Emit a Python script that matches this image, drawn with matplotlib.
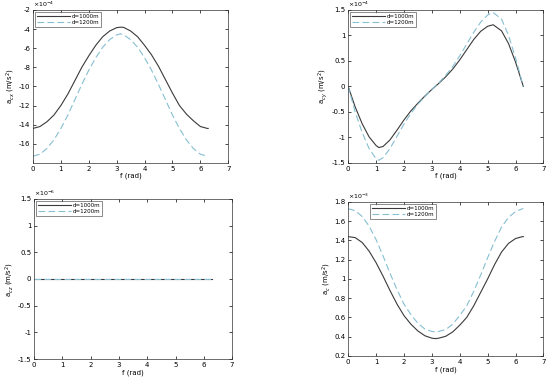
import matplotlib
matplotlib.use("Agg")
import matplotlib.pyplot as plt

# angle samples (rad)
f_vals = [0.0, 0.25, 0.5, 0.75, 1.0, 1.25, 1.5, 1.75, 2.0, 2.25, 2.5, 2.75, 3.0, 3.14,
          3.25, 3.5, 3.75, 4.0, 4.25, 4.5, 4.75, 5.0, 5.25, 5.5, 5.75, 6.0, 6.25, 6.28]

# a_cx, units of 1e-4 m/s^2
acx_1000 = [-14.4, -14.2, -13.7, -13.0, -12.0, -10.8, -9.4, -8.0, -6.8, -5.7, -4.8, -4.2, -3.85, -3.8,
            -3.82, -4.2, -4.8, -5.7, -6.7, -7.9, -9.3, -10.7, -12.0, -12.9, -13.6, -14.2, -14.4, -14.4]
acx_1200 = [-17.3, -17.1, -16.5, -15.6, -14.4, -13.0, -11.4, -9.8, -8.3, -7.0, -5.9, -5.1, -4.6, -4.5,
            -4.6, -5.1, -5.9, -7.0, -8.3, -9.8, -11.4, -13.0, -14.4, -15.6, -16.5, -17.1, -17.3, -17.3]

# a_cy, units of 1e-4 m/s^2
f_cy = [0.0, 0.25, 0.5, 0.75, 1.0, 1.1, 1.25, 1.5, 1.75, 2.0, 2.25, 2.5, 2.75, 3.0,
        3.25, 3.5, 3.75, 4.0, 4.25, 4.5, 4.75, 5.0, 5.2, 5.5, 5.75, 6.0, 6.28]
acy_1000 = [0.0, -0.40, -0.73, -0.99, -1.16, -1.20, -1.18, -1.05, -0.86, -0.66, -0.48, -0.33, -0.19, -0.06,
            0.06, 0.19, 0.34, 0.52, 0.72, 0.92, 1.08, 1.18, 1.21, 1.09, 0.84, 0.48, 0.0]
acy_1200 = [0.0, -0.50, -0.90, -1.22, -1.42, -1.45, -1.40, -1.22, -0.98, -0.74, -0.53, -0.35, -0.20, -0.06,
            0.07, 0.22, 0.39, 0.60, 0.83, 1.06, 1.26, 1.40, 1.45, 1.32, 1.00, 0.56, 0.0]

# a_cz, units of 1e-6 m/s^2
acz_1000 = [0.0] * len(f_vals)
acz_1200 = [0.0] * len(f_vals)

# a_c, units of 1e-3 m/s^2
ac_1000 = [1.44, 1.43, 1.38, 1.29, 1.17, 1.03, 0.88, 0.74, 0.62, 0.53, 0.46, 0.41, 0.385, 0.38,
           0.385, 0.405, 0.45, 0.52, 0.60, 0.72, 0.86, 1.00, 1.15, 1.28, 1.37, 1.42, 1.44, 1.44]
ac_1200 = [1.73, 1.71, 1.65, 1.55, 1.41, 1.24, 1.06, 0.89, 0.74, 0.63, 0.54, 0.48, 0.455, 0.45,
           0.455, 0.475, 0.53, 0.62, 0.72, 0.87, 1.04, 1.22, 1.39, 1.54, 1.64, 1.70, 1.73, 1.73]

labels = ["d=1000m", "d=1200m"]
SOLID = "#3a3a3a"
DASHED = "#86bfd2"
FS = 5

plt.rcParams["font.family"] = "DejaVu Sans"
fig = plt.figure(figsize=(5.5, 3.84), dpi=100)


def panel(rect, x1, y1, x2, y2, scale, exp, ylim, yticks, ylabel, legend_anchor):
    ax = fig.add_axes(rect)
    ax.plot(x1, [v * scale for v in y1], color=SOLID, lw=0.8, label=labels[0])
    ax.plot(x2, [v * scale for v in y2], color=DASHED, lw=0.8, ls=(0, (6, 3)), label=labels[1])
    ax.set_xlim(0, 7)
    ax.set_ylim(ylim[0] * scale, ylim[1] * scale)
    ax.set_xticks(range(0, 8))
    ax.set_yticks([t * scale for t in yticks])
    ax.set_yticklabels(["%g" % t for t in yticks])
    ax.tick_params(direction="in", length=2, width=0.5, labelsize=FS, top=True, right=True, pad=2)
    for s in ax.spines.values():
        s.set_linewidth(0.5)
        s.set_color("#333333")
    ax.set_xlabel("f (rad)", fontsize=FS, labelpad=1)
    ax.set_ylabel(ylabel, fontsize=FS, labelpad=1)
    ax.text(0.0, 1.005, r"$\times10^{%d}$" % exp, transform=ax.transAxes, fontsize=FS - 0.5,
            ha="left", va="bottom")
    leg = ax.legend(loc="upper left", bbox_to_anchor=legend_anchor, fontsize=FS - 1, frameon=True,
                    fancybox=False, handlelength=6, borderpad=0.3, labelspacing=0.2,
                    handletextpad=0.3, borderaxespad=0.4)
    leg.get_frame().set_linewidth(0.5)
    leg.get_frame().set_edgecolor("#333333")
    return ax


panel([0.060, 0.576, 0.355, 0.398], f_vals, acx_1000, f_vals, acx_1200, 1e-4, -4,
      (-18, -2), [-16, -14, -12, -10, -8, -6, -4, -2], r"a$_{cx}$ (m/s$^2$)", (0.0, 1.0))
panel([0.633, 0.576, 0.355, 0.398], f_cy, acy_1000, f_cy, acy_1200, 1e-4, -4,
      (-1.5, 1.5), [-1.5, -1, -0.5, 0, 0.5, 1, 1.5], r"a$_{cy}$ (m/s$^2$)", (0.0, 1.0))
panel([0.062, 0.065, 0.36, 0.417], f_vals, acz_1000, f_vals, acz_1200, 1e-6, -6,
      (-1.5, 1.5), [-1.5, -1, -0.5, 0, 0.5, 1, 1.5], r"a$_{cz}$ (m/s$^2$)", (0.0, 1.0))
panel([0.633, 0.073, 0.355, 0.401], f_vals, ac_1000, f_vals, ac_1200, 1e-3, -3,
      (0.2, 1.8), [0.2, 0.4, 0.6, 0.8, 1, 1.2, 1.4, 1.6, 1.8], r"a$_{c}$ (m/s$^2$)", (0.1, 1.0))

fig.savefig("out.png", dpi=100)
